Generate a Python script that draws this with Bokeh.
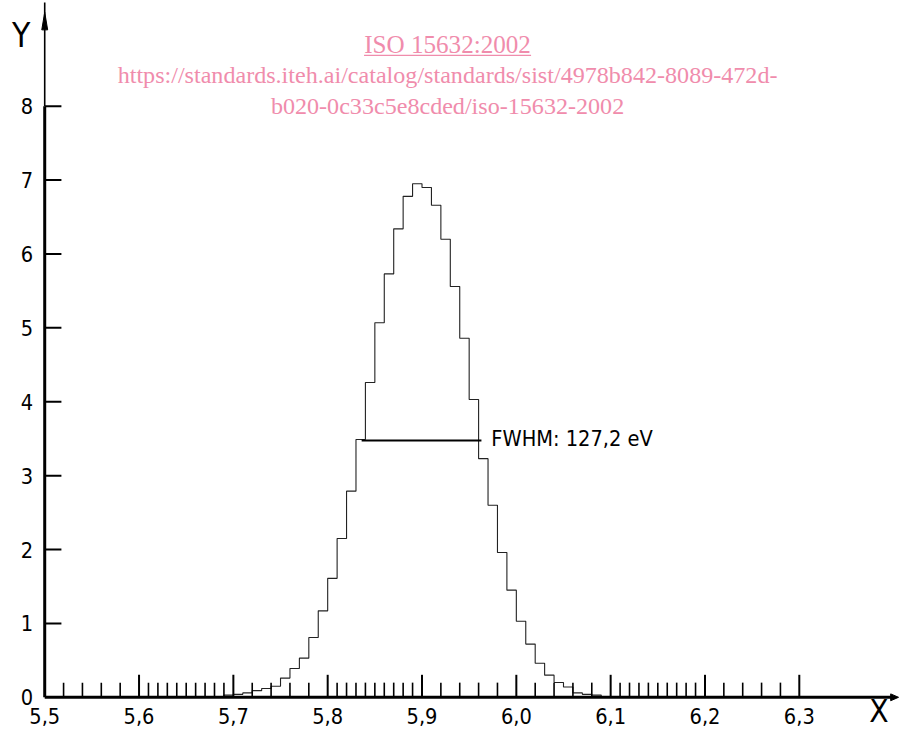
import numpy as np
from bokeh.plotting import figure
from bokeh.models import Range1d
from bokeh.core.properties import value
from bokeh.embed import file_html
from bokeh.resources import INLINE

# ---------------- data ----------------
bin_start = 5.69
bin_width = 0.01
counts = [0.03, 0.04, 0.06, 0.09, 0.12, 0.15, 0.26, 0.39, 0.53, 0.81,
          1.17, 1.61, 2.15, 2.79, 3.49, 4.26, 5.07, 5.73, 6.34, 6.78,
          6.95, 6.90, 6.66, 6.20, 5.56, 4.86, 4.03, 3.23, 2.60, 1.96,
          1.45, 1.03, 0.72, 0.46, 0.30, 0.20, 0.14, 0.06, 0.04, 0.03]

fwhm_left = 5.836
fwhm_right = 5.963
half_max = 3.475
fwhm_label = "FWHM: 127,2 eV"

x_tick_values = [5.5, 5.6, 5.7, 5.8, 5.9, 6.0, 6.1, 6.2, 6.3]
x_tick_labels = ["5,5", "5,6", "5,7", "5,8", "5,9", "6,0", "6,1", "6,2", "6,3"]
x_major_ticks = [5.6, 5.7, 5.8, 5.9, 6.0, 6.1, 6.2, 6.3]
x_minor_ticks = [5.52, 5.54, 5.56, 5.58,
                 5.61, 5.62, 5.63, 5.64, 5.65, 5.66, 5.67, 5.68, 5.69,
                 5.72, 5.74, 5.76, 5.78,
                 5.81, 5.82, 5.83, 5.84, 5.85, 5.86, 5.87, 5.88, 5.89,
                 5.92, 5.94, 5.96, 5.98,
                 6.02, 6.04, 6.06, 6.08,
                 6.11, 6.12, 6.13, 6.14, 6.15, 6.16, 6.17, 6.18, 6.19,
                 6.22, 6.24, 6.26, 6.28]
y_tick_values = [0, 1, 2, 3, 4, 5, 6, 7, 8]
y_tick_labels = ["0", "1", "2", "3", "4", "5", "6", "7", "8"]

wm_title = "ISO 15632:2002"
wm_line1 = "https://standards.iteh.ai/catalog/standards/sist/4978b842-8089-472d-"
wm_line2 = "b020-0c33c5e8cded/iso-15632-2002"

# ---------------- scale (layout pixels <-> data) ----------------
X0, Y0 = 5.5, 0.0            # axes origin (data)
RX0, RY0 = 45, 712           # origin in layout pixels (916 x 750 design)
SX, SY = 960.0, 75.5         # layout pixels per data unit
DW, DH = 916, 750            # design size
W, H = 900, 734              # figure size
K = W / DW                   # font scale

def dx(px):
    return px / SX

def dy(py):
    return py / SY

def px2x(px):
    return X0 + (px - RX0) / SX

def py2y(py):
    return Y0 + (RY0 - py) / SY

def fs(px):
    return "%.1fpx" % (px * K)

p = figure(width=W, height=H, output_backend="svg", toolbar_location=None,
           x_range=Range1d(px2x(0), px2x(DW)),
           y_range=Range1d(py2y(DH), py2y(0)),
           x_axis_location=None, y_axis_location=None,
           min_border=0, tools="")
p.grid.visible = False
p.outline_line_color = None
p.background_fill_color = "white"
p.border_fill_color = "white"

FONT = value("DejaVu Sans Condensed")
SERIF = value("Liberation Serif")
PINK = "#f08cac"

# ---------------- histogram ----------------
edges = np.round(bin_start + bin_width * np.arange(len(counts) + 1), 4)
xs, ys = [edges[0]], [0.0]
for i, c in enumerate(counts):
    xs += [edges[i], edges[i + 1]]
    ys += [c, c]
xs.append(edges[-1]); ys.append(0.0)
p.line(xs, ys, line_color="#222222", line_width=1.1)

# ---------------- axes ----------------
y_top = py2y(12)
x_right = px2x(914)
p.segment(x0=[X0], y0=[0], x1=[X0], y1=[8], line_color="black", line_width=3)
p.segment(x0=[X0], y0=[8], x1=[X0], y1=[y_top - dy(-10)], line_color="black", line_width=1.6)
p.patch([X0 - dx(3), X0, X0 + dx(3)], [y_top - dy(18), y_top, y_top - dy(18)],
        fill_color="black", line_color="black", line_width=1)
p.segment(x0=[X0], y0=[0], x1=[x_right - dx(6)], y1=[0], line_color="black", line_width=3)
p.patch([x_right - dx(8), x_right, x_right - dx(8)], [dy(3.5), 0, -dy(3.5)],
        fill_color="black", line_color="black", line_width=1)

# x ticks
p.segment(x0=x_major_ticks, y0=[0] * len(x_major_ticks), x1=x_major_ticks,
          y1=[dy(23)] * len(x_major_ticks), line_color="black", line_width=2)
p.segment(x0=x_minor_ticks, y0=[0] * len(x_minor_ticks), x1=x_minor_ticks,
          y1=[dy(15)] * len(x_minor_ticks), line_color="black", line_width=1.6)
# y ticks
yt = y_tick_values[1:]
p.segment(x0=[X0] * len(yt), y0=yt, x1=[X0 + dx(17)] * len(yt), y1=yt,
          line_color="black", line_width=2)

# tick labels
p.text(x=x_tick_values, y=[py2y(731)] * len(x_tick_values), text=x_tick_labels,
       text_font=FONT, text_font_size=fs(22), text_align="center",
       text_baseline="middle", text_color="black")
p.text(x=[px2x(27)] * len(y_tick_values), y=y_tick_values, text=y_tick_labels,
       text_font=FONT, text_font_size=fs(22), text_align="center",
       text_baseline="middle", text_color="black")

# axis names
p.text(x=[px2x(21)], y=[py2y(36)], text=["Y"], text_font=FONT, text_font_size=fs(34),
       text_align="center", text_baseline="middle", text_color="black")
p.text(x=[px2x(894)], y=[py2y(726)], text=["X"], text_font=FONT, text_font_size=fs(32),
       text_align="center", text_baseline="middle", text_color="black")

# FWHM
p.segment(x0=[fwhm_left], y0=[half_max], x1=[fwhm_right], y1=[half_max],
          line_color="black", line_width=2)
p.text(x=[fwhm_right + dx(10)], y=[half_max + dy(2)], text=[fwhm_label], text_font=FONT,
       text_font_size=fs(22), text_align="left", text_baseline="middle", text_color="black")

# watermark
cx = px2x(455)
p.text(x=[cx], y=[py2y(45)], text=[wm_title], text_font=SERIF, text_font_size=fs(25.5),
       text_align="center", text_baseline="middle", text_color=PINK)
p.segment(x0=[px2x(370)], y0=[py2y(56)], x1=[px2x(540)], y1=[py2y(56)],
          line_color=PINK, line_width=1.2)
p.text(x=[cx], y=[py2y(76)], text=[wm_line1], text_font=SERIF, text_font_size=fs(24.5),
       text_align="center", text_baseline="middle", text_color=PINK)
p.text(x=[cx], y=[py2y(108)], text=[wm_line2], text_font=SERIF, text_font_size=fs(24.5),
       text_align="center", text_baseline="middle", text_color=PINK)

open("out.html", "w").write(file_html(p, INLINE))
